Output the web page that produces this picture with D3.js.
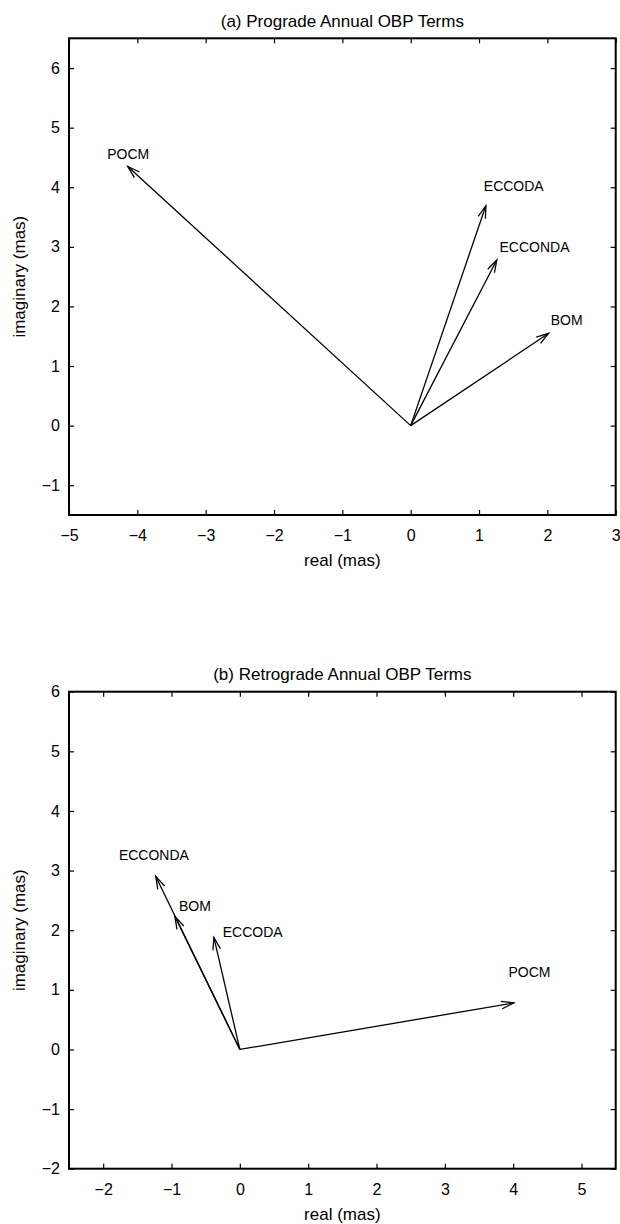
<!DOCTYPE html>
<html>
<head>
<meta charset="utf-8">
<script src="https://cdn.jsdelivr.net/npm/d3@7"></script>
<style>
    body { margin: 0; background: #fff; }
    svg { display: block; font-family: "Liberation Sans", Arial, Helvetica, sans-serif; }
    .frame { fill: none; stroke: #000; stroke-width: 2; }
    .tick line { stroke: #000; stroke-width: 1.2; }
    .tick text { font-size: 16px; fill: #000; }
    .domain { display: none; }
    .vec { stroke: #000; stroke-width: 1.3; fill: none; }
    .v-label { font-size: 14px; fill: #000; }
    .title, .axis-label { font-size: 17px; fill: #000; }
</style>
</head>
<body>
<div id="chart"></div>
<script>
// panel (a) prograde annual terms
var titleA = '(a) Prograde Annual OBP Terms';
var termsA = ['POCM', 'ECCODA', 'ECCONDA', 'BOM'];
var realA = [-4.14, 1.10, 1.26, 2.02];
var imagA = [4.35, 3.69, 2.78, 1.55];
var labelRealA = [-4.44, 1.07, 1.30, 2.05];
var labelImagA = [4.47, 3.93, 2.91, 1.69];
var xDomainA = [-5, 3];
var yDomainA = [-1.5, 6.5];
var xTicksA = [-5, -4, -3, -2, -1, 0, 1, 2, 3];
var yTicksA = [-1, 0, 1, 2, 3, 4, 5, 6];

// panel (b) retrograde annual terms
var titleB = '(b) Retrograde Annual OBP Terms';
var termsB = ['POCM', 'ECCODA', 'ECCONDA', 'BOM'];
var realB = [4.01, -0.38, -1.23, -0.95];
var imagB = [0.78, 1.88, 2.90, 2.23];
var labelRealB = [3.93, -0.25, -1.77, -0.89];
var labelImagB = [1.22, 1.89, 3.17, 2.33];
var xDomainB = [-2.5, 5.5];
var yDomainB = [-2, 6];
var xTicksB = [-2, -1, 0, 1, 2, 3, 4, 5];
var yTicksB = [-2, -1, 0, 1, 2, 3, 4, 5, 6];

var WIDTH = 620, HEIGHT = 1224;
var LEFT = 69, RIGHT = 615.7;
var TICK = 5, HEAD = 13, HEAD_ANGLE = 17 * Math.PI / 180;

var svg = d3.select('#chart').append('svg')
    .attr('width', WIDTH)
    .attr('height', HEIGHT);

function drawPanel(opt) {
    var x = d3.scaleLinear().domain(opt.xDomain).range([LEFT, RIGHT]);
    var y = d3.scaleLinear().domain(opt.yDomain).range([opt.bottom, opt.top]);
    var g = svg.append('g');
    var fmt = d3.format('d');

    g.append('g')
        .attr('transform', 'translate(0,' + opt.bottom + ')')
        .call(d3.axisBottom(x).tickValues(opt.xTicks).tickFormat(fmt).tickSize(-TICK).tickPadding(15));
    g.append('g')
        .attr('transform', 'translate(0,' + opt.top + ')')
        .call(d3.axisTop(x).tickValues(opt.xTicks).tickFormat('').tickSize(-TICK));
    g.append('g')
        .attr('transform', 'translate(' + LEFT + ',0)')
        .call(d3.axisLeft(y).tickValues(opt.yTicks).tickFormat(fmt).tickSize(-TICK).tickPadding(9));
    g.append('g')
        .attr('transform', 'translate(' + RIGHT + ',0)')
        .call(d3.axisRight(y).tickValues(opt.yTicks).tickFormat('').tickSize(-TICK));

    g.append('rect')
        .attr('class', 'frame')
        .attr('x', LEFT)
        .attr('y', opt.top)
        .attr('width', RIGHT - LEFT)
        .attr('height', opt.bottom - opt.top);

    g.append('text')
        .attr('class', 'title')
        .attr('x', (LEFT + RIGHT) / 2)
        .attr('y', opt.top - 11.5)
        .attr('text-anchor', 'middle')
        .text(opt.title);
    g.append('text')
        .attr('class', 'axis-label')
        .attr('x', (LEFT + RIGHT) / 2)
        .attr('y', opt.bottom + 51)
        .attr('text-anchor', 'middle')
        .text('real (mas)');
    g.append('text')
        .attr('class', 'axis-label')
        .attr('transform', 'translate(25,' + (opt.top + opt.bottom) / 2 + ') rotate(-90)')
        .attr('text-anchor', 'middle')
        .text('imaginary (mas)');

    var data = opt.terms.map(function (name, i) {
        return { name: name, re: opt.re[i], im: opt.im[i], lre: opt.lre[i], lim: opt.lim[i] };
    });

    var vec = g.selectAll('g.v-item')
        .data(data)
        .enter()
        .append('g')
        .attr('class', 'v-item');

    vec.append('line')
        .attr('class', 'vec')
        .attr('x1', x(0)).attr('y1', y(0))
        .attr('x2', d => x(d.re)).attr('y2', d => y(d.im));

    // open arrow head
    vec.append('path')
        .attr('class', 'vec')
        .attr('d', function (d) {
            var tx = x(d.re), ty = y(d.im);
            var a = Math.atan2(y(0) - ty, x(0) - tx);
            var p1 = [tx + HEAD * Math.cos(a + HEAD_ANGLE), ty + HEAD * Math.sin(a + HEAD_ANGLE)];
            var p2 = [tx + HEAD * Math.cos(a - HEAD_ANGLE), ty + HEAD * Math.sin(a - HEAD_ANGLE)];
            return 'M' + p1 + 'L' + tx + ',' + ty + 'L' + p2;
        });

    vec.append('text')
        .attr('class', 'v-label')
        .attr('x', d => x(d.lre))
        .attr('y', d => y(d.lim))
        .text(d => d.name);
}

drawPanel({
    title: titleA, terms: termsA, re: realA, im: imagA, lre: labelRealA, lim: labelImagA,
    xDomain: xDomainA, yDomain: yDomainA, xTicks: xTicksA, yTicks: yTicksA,
    top: 38.3, bottom: 515
});
drawPanel({
    title: titleB, terms: termsB, re: realB, im: imagB, lre: labelRealB, lim: labelImagB,
    xDomain: xDomainB, yDomain: yDomainB, xTicks: xTicksB, yTicks: yTicksB,
    top: 691.7, bottom: 1168.7
});
</script>
</body>
</html>
